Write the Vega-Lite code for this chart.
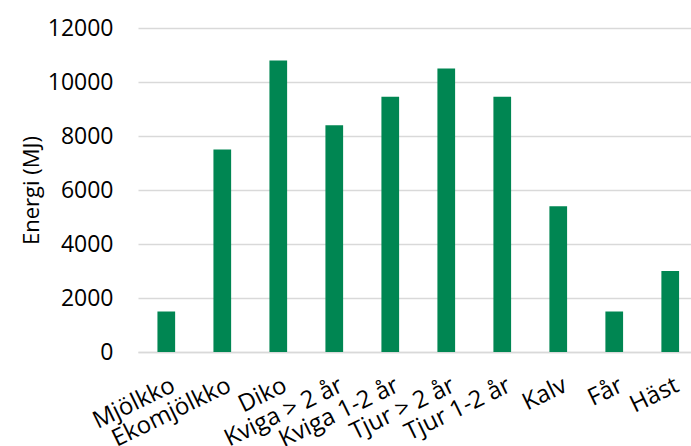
{
  "$schema": "https://vega.github.io/schema/vega-lite/v6.json",
  "width": 553,
  "height": 324,
  "autosize": {"type": "none"},
  "padding": {"left": 138, "top": 28, "right": 0, "bottom": 94},
  "background": "white",
  "config": {"view": {"stroke": null}, "font": "Open Sans"},
  "data": {"values": [
    {"kategori": "Mjölkko", "energi": 1500},
    {"kategori": "Ekomjölkko", "energi": 7500},
    {"kategori": "Diko", "energi": 10800},
    {"kategori": "Kviga > 2 år", "energi": 8400},
    {"kategori": "Kviga 1-2 år", "energi": 9450},
    {"kategori": "Tjur > 2 år", "energi": 10500},
    {"kategori": "Tjur 1-2 år", "energi": 9450},
    {"kategori": "Kalv", "energi": 5400},
    {"kategori": "Får", "energi": 1500},
    {"kategori": "Häst", "energi": 3000}
  ]},
  "mark": {"type": "bar", "color": "#008652"},
  "encoding": {
    "x": {
      "field": "kategori", "type": "nominal", "sort": null,
      "scale": {"paddingInner": 0.684, "paddingOuter": 0.28, "align": 0.62},
      "axis": {
        "title": null, "labelAngle": -26, "labelAlign": "right", "labelBaseline": "top",
        "labelFontSize": 24, "labelColor": "#000000", "labelPadding": 21, "labelOffset": 2,
        "ticks": false, "domainColor": "#d9d9d9", "domainWidth": 1.5, "grid": false, "labelOverlap": false
      }
    },
    "y": {
      "field": "energi", "type": "quantitative",
      "scale": {"domain": [0, 12000], "nice": false},
      "axis": {
        "title": "Energi (MJ)", "titleFontSize": 22, "titleFontWeight": "normal", "titleColor": "#000000",
        "titlePadding": 4,
        "values": [0, 2000, 4000, 6000, 8000, 10000, 12000], "format": "d",
        "labelFontSize": 23, "labelColor": "#000000", "labelPadding": 25,
        "ticks": false, "domain": false, "grid": true, "gridColor": "#d9d9d9", "gridWidth": 1.5
      }
    }
  }
}
